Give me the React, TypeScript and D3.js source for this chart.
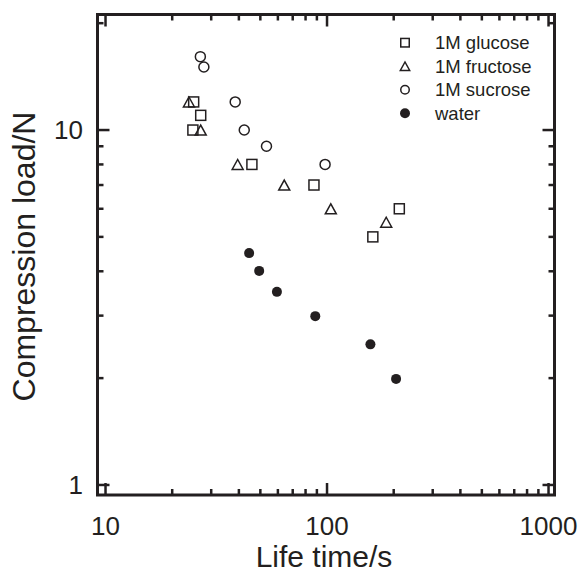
import React from "react";
import * as d3 from "d3";

const glucoseX = [25.0, 26.9, 24.8, 45.8, 87.3, 212, 161];
const glucoseY = [12.0, 11.0, 10.0, 8.0, 7.0, 6.0, 5.0];
const fructoseX = [23.8, 26.9, 39.5, 64.1, 104, 185];
const fructoseY = [12.0, 10.0, 8.0, 7.0, 6.0, 5.5];
const sucroseX = [26.8, 27.8, 38.5, 42.3, 53.3, 98];
const sucroseY = [16.1, 15.05, 12.0, 10.0, 9.0, 8.0];
const waterX = [44.5, 49.4, 59.4, 88.5, 157, 205];
const waterY = [4.5, 4.01, 3.5, 2.99, 2.49, 1.99];

const xMajor = [10, 100, 1000];
const xMinor = [20, 30, 40, 50, 60, 70, 80, 90, 200, 300, 400, 500, 600, 700, 800, 900];
const yMajor = [1, 10];
const yMinor = [2, 3, 4, 5, 6, 7, 8, 9, 20];
const legendLabels = ["1M glucose", "1M fructose", "1M sucrose", "water"];

const INK = "#231f20";
const FONT = "'Liberation Sans', Arial, Helvetica, sans-serif";

type Shape = "square" | "triangle" | "circle" | "disc";

function Marker({ shape, cx, cy, s }: { shape: Shape; cx: number; cy: number; s: number }) {
  const h = s / 2;
  if (shape === "square")
    return <rect x={cx - h} y={cy - h} width={s} height={s} fill="none" stroke={INK} strokeWidth={1.5} />;
  if (shape === "triangle") {
    const w = s * 1.1;
    const pts = `${cx - w / 2},${cy + h} ${cx + w / 2},${cy + h} ${cx},${cy - h}`;
    return <polygon points={pts} fill="none" stroke={INK} strokeWidth={1.5} strokeLinejoin="miter" />;
  }
  if (shape === "circle")
    return <circle cx={cx} cy={cy} r={h} fill="none" stroke={INK} strokeWidth={1.5} />;
  return <circle cx={cx} cy={cy} r={h} fill={INK} stroke="none" />;
}

export default function App() {
  const W = 579, H = 576;
  const L = 97.5, R = 554.5, T = 14.5, B = 495;
  const x = d3.scaleLog().domain([9.2, 1064]).range([L, R]);
  const y = d3.scaleLog().domain([0.937, 21.16]).range([B, T]);

  const series: { shape: Shape; xs: number[]; ys: number[] }[] = [
    { shape: "square", xs: glucoseX, ys: glucoseY },
    { shape: "triangle", xs: fructoseX, ys: fructoseY },
    { shape: "circle", xs: sucroseX, ys: sucroseY },
    { shape: "disc", xs: waterX, ys: waterY },
  ];

  const majLen = 12, minLen = 6;
  const tickW = 2.5;

  return (
    <svg width={W} height={H} style={{ position: "absolute", left: 0, top: 0, background: "#fff" }} fontFamily={FONT}>
      <rect x={0} y={0} width={W} height={H} fill="#fff" />
      <g stroke={INK} strokeWidth={tickW}>
        {xMajor.map((v) => (
          <g key={"xM" + v}>
            <line x1={x(v)} x2={x(v)} y1={B} y2={B - majLen} />
            <line x1={x(v)} x2={x(v)} y1={T} y2={T + majLen} />
          </g>
        ))}
        {xMinor.map((v) => (
          <g key={"xm" + v}>
            <line x1={x(v)} x2={x(v)} y1={B} y2={B - minLen} />
            <line x1={x(v)} x2={x(v)} y1={T} y2={T + minLen} />
          </g>
        ))}
        {yMajor.map((v) => (
          <g key={"yM" + v}>
            <line x1={L} x2={L + majLen} y1={y(v)} y2={y(v)} />
            <line x1={R} x2={R - majLen} y1={y(v)} y2={y(v)} />
          </g>
        ))}
        {yMinor.map((v) => (
          <g key={"ym" + v}>
            <line x1={L} x2={L + minLen} y1={y(v)} y2={y(v)} />
            <line x1={R} x2={R - minLen} y1={y(v)} y2={y(v)} />
          </g>
        ))}
      </g>
      <rect x={L} y={T} width={R - L} height={B - T} fill="none" stroke={INK} strokeWidth={3} />
      {xMajor.map((v) => (
        <text key={"xl" + v} x={x(v)} y={535} textAnchor="middle" fontSize={26} fill={INK}>
          {String(v)}
        </text>
      ))}
      {yMajor.map((v) => (
        <text key={"yl" + v} x={83} y={y(v)} dy="0.36em" textAnchor="end" fontSize={26} fill={INK}>
          {String(v)}
        </text>
      ))}
      <text x={(L + R) / 2 - 2} y={567} textAnchor="middle" fontSize={30} fill={INK}>
        Life time/s
      </text>
      <text transform={`translate(35, ${(108 + 405) / 2}) rotate(-90)`} textAnchor="middle" fontSize={32} fill={INK}>
        Compression load/N
      </text>
      {series.map((s) =>
        s.xs.map((xv, i) => (
          <Marker key={s.shape + i} shape={s.shape} cx={x(xv)} cy={y(s.ys[i])} s={10} />
        ))
      )}
      {series.map((s, i) => (
        <g key={"lg" + i}>
          <Marker shape={s.shape} cx={405} cy={42.7 + i * 23.5} s={s.shape === "disc" ? 10 : 8.5} />
          <text x={435} y={42.7 + i * 23.5} dy="0.36em" fontSize={18.5} fill={INK}>
            {legendLabels[i]}
          </text>
        </g>
      ))}
    </svg>
  );
}
